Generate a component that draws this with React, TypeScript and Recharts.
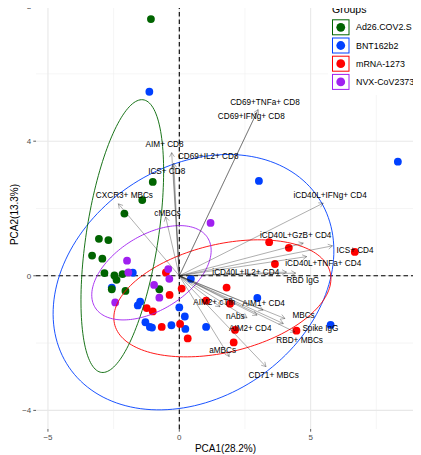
import React from 'react';
import { ScatterChart, Scatter, XAxis, YAxis } from 'recharts';

const FONT = '"Liberation Sans", Arial, Helvetica, sans-serif';

// Groups
const groupNames = ['Ad26.COV2.S', 'BNT162b2', 'mRNA-1273', 'NVX-CoV2373'];
const groupColors = ['#006400', '#0040FF', '#FF0000', '#A020F0'];

// Individuals (PCA scores)
const ad26X = [-1.08, -1.01, -1.41, -2.09, -3.06, -2.70, -3.32, -2.93, -2.85, -2.47, -2.16, -2.39, -2.57, -2.05, -0.76];
const ad26Y = [7.63, 2.79, 2.25, 1.85, 1.10, 1.06, 0.60, 0.51, 0.08, 0.01, 0.05, -0.12, -0.40, -0.45, -0.40];

const bntX = [-1.14, 8.32, 3.03, -1.77, -2.57, -1.49, -1.58, -1.29, -1.04, -1.12, -0.30, 0.00, 0.21, 0.23, 0.44, 1.02, 2.97, 5.76];
const bntY = [5.47, 3.39, 2.82, 0.09, -0.35, -0.77, -0.88, -1.38, -1.54, -1.52, -1.47, -0.94, -1.21, -1.58, -0.09, -1.52, -0.66, -1.46];

const mrnaX = [3.42, 4.17, 6.68, 3.64, 1.80, 1.02, 1.93, 0.09, 2.12, 4.46, 2.07, 0.32, 0.03, -0.67, -1.01, -1.24, -0.51, -0.37];
const mrnaY = [1.00, 0.83, 0.71, 0.35, -0.35, -0.74, -0.83, -0.38, -1.61, -1.63, -1.98, -1.86, -1.43, -1.52, -1.06, -0.96, 0.10, -0.57];

const nvxX = [1.19, -1.99, -1.94, -2.44, -0.96, -0.76, -0.42, -0.38];
const nvxY = [1.57, 0.45, 0.10, -0.79, -0.27, -0.65, 0.20, -0.09];

// Confidence ellipses per group (centre, semi-axes, rotation)
const ellipseCenterX = [-2.17, 0.54, 1.64, -1.06];
const ellipseCenterY = [1.18, -0.19, -0.67, 0.09];
const ellipseSemiMajor = [4.13, 5.49, 4.18, 2.40];
const ellipseSemiMinor = [1.36, 3.58, 1.62, 1.17];
const ellipseAngleDeg = [78.3, 17.6, 9.45, 21.6];

// Variables (loadings)
const varNames = [
  'CD69+TNFa+ CD8', 'CD69+IFNg+  CD8', 'AIM+ CD8', 'CD69+IL2+ CD8', 'ICS+ CD8',
  'CXCR3+ MBCs', 'cMBCs', 'iCD40L+IFNg+ CD4', 'iCD40L+GzB+ CD4', 'ICS+ CD4',
  'iCD40L+TNFa+ CD4', 'iCD40L+IL2+ CD4', 'RBD IgG', 'AIM1+ CD4', 'AIM2+ cTfh',
  'nAbs', 'MBCs', 'Spike IgG', 'RBD+ MBCs', 'AIM2+ CD4', 'aMBCs', 'CD71+ MBCs',
];
const varX = [3.00, 2.95, -0.29, -0.21, -0.24, -2.32, -0.52, 5.48, 4.72, 5.83, 4.85, 4.08, 4.43, 3.19, 1.55, 2.58, 4.02, 4.40, 3.96, 2.96, 1.90, 3.30];
const varY = [4.94, 4.85, 3.66, 3.35, 3.28, 2.14, 1.75, 2.16, 0.97, 0.89, 0.57, 0.11, 0.08, -1.02, -0.92, -1.25, -1.27, -1.67, -1.42, -1.17, -2.40, -2.70];
const varLabelX = [3.26, 2.74, -0.56, 1.10, -0.48, -2.09, -0.45, 5.74, 4.43, 6.69, 5.48, 2.53, 4.70, 3.21, 1.33, 2.13, 4.73, 5.37, 4.58, 2.70, 1.65, 3.59];
const varLabelY = [5.16, 4.72, 3.90, 3.55, 3.09, 2.38, 1.86, 2.38, 1.20, 0.74, 0.38, 0.11, -0.15, -0.81, -0.79, -1.21, -1.18, -1.58, -1.93, -1.56, -2.22, -2.97];

// Axes
const xTicks = [-5, 0, 5];
const yTicks = [-4, 0, 4, 8];
const xMinorGrid = [-2.5, 2.5, 7.5];
const yMinorGrid = [-2, 2, 6];
const xDomain: [number, number] = [-5.455, 8.972];
const yDomain: [number, number] = [-4.553, 8.196];

type Pt = { x: number; y: number; name?: string };

const toPoints = (xs: number[], ys: number[]): Pt[] => xs.map((x, i) => ({ x, y: ys[i] }));
const groupData = [toPoints(ad26X, ad26Y), toPoints(bntX, bntY), toPoints(mrnaX, mrnaY), toPoints(nvxX, nvxY)];

const ellipseData: Pt[][] = ellipseCenterX.map((cx, g) => {
  const cy = ellipseCenterY[g];
  const a = ellipseSemiMajor[g];
  const b = ellipseSemiMinor[g];
  const t = (ellipseAngleDeg[g] * Math.PI) / 180;
  const pts: Pt[] = [];
  const n = 160;
  for (let k = 0; k <= n; k++) {
    const u = (2 * Math.PI * k) / n;
    const ex = a * Math.cos(u);
    const ey = b * Math.sin(u);
    pts.push({ x: cx + ex * Math.cos(t) - ey * Math.sin(t), y: cy + ex * Math.sin(t) + ey * Math.cos(t) });
  }
  return pts;
});

const segs = (list: number[][]): Pt[] => list.flatMap(([x1, y1, x2, y2]) => [{ x: x1, y: y1 }, { x: x2, y: y2 }]);
const majorGridData = segs([
  ...xTicks.map((v) => [v, yDomain[0], v, yDomain[1]]),
  ...yTicks.map((v) => [xDomain[0], v, xDomain[1], v]),
]);
const minorGridData = segs([
  ...xMinorGrid.map((v) => [v, yDomain[0], v, yDomain[1]]),
  ...yMinorGrid.map((v) => [xDomain[0], v, xDomain[1], v]),
]);
const zeroLineData = segs([
  [0, yDomain[0], 0, yDomain[1]],
  [xDomain[0], 0, xDomain[1], 0],
]);
const arrowData = segs(varX.map((x, i) => [0, 0, x, varY[i]]));
const labelData: Pt[] = varNames.map((name, i) => ({ x: varLabelX[i], y: varLabelY[i], name }));

const noShape = () => <g />;

const segmentRenderer = (stroke: string, width: number, dash?: string) => (props: any) => {
  const pts = props.points || [];
  const els: React.ReactNode[] = [];
  for (let i = 0; i + 1 < pts.length; i += 2) {
    els.push(
      <line key={i} x1={pts[i].x} y1={pts[i].y} x2={pts[i + 1].x} y2={pts[i + 1].y}
        stroke={stroke} strokeWidth={width} strokeDasharray={dash} fill="none" />
    );
  }
  return <g>{els}</g>;
};

const arrowRenderer = (props: any) => {
  const pts = props.points || [];
  const els: React.ReactNode[] = [];
  const L = 5;
  const A = Math.PI / 6;
  for (let i = 0; i + 1 < pts.length; i += 2) {
    const x1 = pts[i].x, y1 = pts[i].y, x2 = pts[i + 1].x, y2 = pts[i + 1].y;
    const ang = Math.atan2(y2 - y1, x2 - x1);
    const hx1 = x2 - L * Math.cos(ang - A), hy1 = y2 - L * Math.sin(ang - A);
    const hx2 = x2 - L * Math.cos(ang + A), hy2 = y2 - L * Math.sin(ang + A);
    els.push(
      <g key={i} stroke="#1a1a1a" strokeOpacity={0.5} strokeWidth={0.7} fill="none">
        <line x1={x1} y1={y1} x2={x2} y2={y2} />
        <polyline points={`${hx1},${hy1} ${x2},${y2} ${hx2},${hy2}`} />
      </g>
    );
  }
  return <g>{els}</g>;
};

const ellipseRenderer = (color: string) => (props: any) => {
  const pts = props.points || [];
  const d = pts.map((p: any, i: number) => `${i === 0 ? 'M' : 'L'}${p.x},${p.y}`).join(' ');
  return <path d={d} fill="none" stroke={color} strokeWidth={0.9} />;
};

const pointShape = (color: string) => (p: any) => <circle cx={p.cx} cy={p.cy} r={3.9} fill={color} />;

const labelShape = (p: any) => {
  const name = (p.payload && p.payload.name) || p.name;
  return (
    <text x={p.cx} y={p.cy} textAnchor="middle" dominantBaseline="central" fontSize={8.2} fill="#000" fontFamily={FONT}>
      {name}
    </text>
  );
};

const fmt = (v: number) => String(v).replace('-', '\u2212');

const XTitle = (p: any) => {
  const vb = p.viewBox || { x: 36, y: 429, width: 379, height: 26 };
  return (
    <text x={vb.x + vb.width / 2} y={vb.y + vb.height - 3} textAnchor="middle" fontSize={10} fill="#000" fontFamily={FONT}>
      PCA1(28.2%)
    </text>
  );
};

const YTitle = (p: any) => {
  const vb = p.viewBox || { x: 0, y: 0, width: 36, height: 429 };
  const x = vb.x + 14.2;
  const y = vb.y + vb.height / 2;
  return (
    <text x={x} y={y} transform={`rotate(-90, ${x}, ${y})`} textAnchor="middle" dominantBaseline="central" fontSize={10} fill="#000" fontFamily={FONT}>
      PCA2(13.3%)
    </text>
  );
};

const drawOrder = [1, 2, 0, 3];

const LegendBox = () => (
  <svg width={93} height={95} style={{ position: 'absolute', left: 328, top: 0 }}>
    <rect x={0} y={2} width={93} height={93} fill="#fff" />
    <text x={4} y={8.5} dominantBaseline="central" fontSize={10.5} fill="#000" fontFamily={FONT}>Groups</text>
    {groupNames.map((g, i) => {
      const top = 19.3 + i * 18.2;
      return (
        <g key={g}>
          <rect x={4.5} y={top + 0.5} width={16.5} height={15} fill="#fff" stroke={groupColors[i]} strokeWidth={1} />
          <circle cx={12.75} cy={top + 8} r={4.4} fill={groupColors[i]} />
          <text x={28} y={top + 8} dominantBaseline="central" fontSize={8.9} fill="#000" fontFamily={FONT}>{g}</text>
        </g>
      );
    })}
  </svg>
);

export default function App() {
  return (
    <div style={{ position: 'relative', width: 421, height: 455, margin: '-8px 0 0 -8px', background: '#fff', fontFamily: FONT }}>
      <ScatterChart width={421} height={455} margin={{ top: 0, right: 6, bottom: 0, left: 0 }}>
        <XAxis
          type="number" dataKey="x" domain={xDomain} ticks={xTicks} allowDataOverflow interval={0}
          height={26} tickSize={2.7} tickMargin={3} axisLine={false}
          tickLine={{ stroke: '#333', strokeWidth: 0.8 }}
          tick={{ fill: '#4d4d4d', fontSize: 8, fontFamily: FONT }}
          tickFormatter={fmt}
          label={{ content: XTitle }}
        />
        <YAxis
          type="number" dataKey="y" domain={yDomain} ticks={yTicks} allowDataOverflow interval={0}
          width={36} tickSize={2.7} tickMargin={2} axisLine={false}
          tickLine={{ stroke: '#333', strokeWidth: 0.8 }}
          tick={{ fill: '#4d4d4d', fontSize: 8, fontFamily: FONT }}
          tickFormatter={fmt}
          label={{ content: YTitle }}
        />
        <Scatter data={minorGridData} shape={noShape} line={segmentRenderer('#eeeeee', 0.6)} isAnimationActive={false} legendType="none" />
        <Scatter data={majorGridData} shape={noShape} line={segmentRenderer('#e8e8e8', 1.1)} isAnimationActive={false} legendType="none" />
        <Scatter data={zeroLineData} shape={noShape} line={segmentRenderer('#000', 1.1, '4.5 3')} isAnimationActive={false} legendType="none" />
        {drawOrder.map((g) => (
          <Scatter key={groupNames[g]} name={groupNames[g]} data={groupData[g]} fill={groupColors[g]}
            shape={pointShape(groupColors[g])} isAnimationActive={false} />
        ))}
        {drawOrder.map((g) => (
          <Scatter key={'ell' + g} data={ellipseData[g]} shape={noShape} line={ellipseRenderer(groupColors[g])}
            isAnimationActive={false} legendType="none" />
        ))}
        <Scatter data={arrowData} shape={noShape} line={arrowRenderer} isAnimationActive={false} legendType="none" />
        <Scatter data={labelData} shape={labelShape} isAnimationActive={false} legendType="none" />
      </ScatterChart>
      <LegendBox />
    </div>
  );
}
